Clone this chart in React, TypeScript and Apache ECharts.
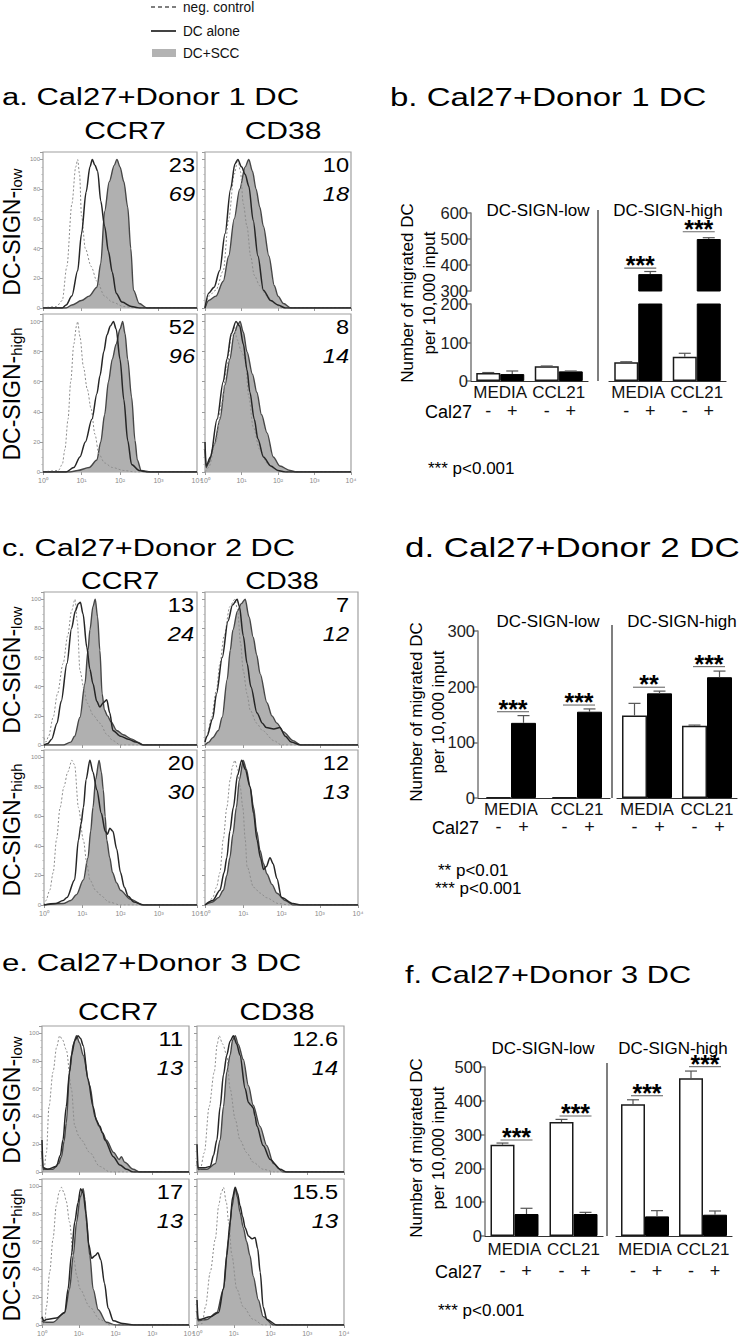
import React, { useEffect, useRef } from 'react';
import * as echarts from 'echarts';

type Pt = [number, number];

const FONT = '"Liberation Sans", Arial, Helvetica, sans-serif';

// ---------------- text content ----------------
const legendLabels = ['neg. control', 'DC alone', 'DC+SCC'];
const histTitles = ['a. Cal27+Donor 1 DC', 'c. Cal27+Donor 2 DC', 'e. Cal27+Donor 3 DC'];
const barTitles = ['b. Cal27+Donor 1 DC', 'd. Cal27+Donor 2 DC', 'f. Cal27+Donor 3 DC'];
const markers = ['CCR7', 'CD38'];
const subsets = ['low', 'high'];
const xTickLabels = ['10⁰', '10¹', '10²', '10³', '10⁴'];
const barCategories = ['MEDIA', 'CCL21'];
const groupHeads = ['DC-SIGN-low', 'DC-SIGN-high'];
const yTitle = 'Number of migrated DC\nper 10,000 input';

// numbers in each histogram: [upright, italic]; order CCR7-low, CD38-low, CCR7-high, CD38-high
const donor1Numbers = [['23', '69'], ['10', '18'], ['52', '96'], ['8', '14']];
const donor2Numbers = [['13', '24'], ['7', '12'], ['20', '30'], ['12', '13']];
const donor3Numbers = [['11', '13'], ['12.6', '14'], ['17', '13'], ['15.5', '13']];

// ---------------- histogram curves: [log10 intensity, % of max] ----------------
// Donor 1
const d1Ccr7LowNeg: Pt[] = [[0,0],[0.35,1],[0.5,5],[0.62,28],[0.75,70],[0.85,95],[0.9,100],[0.95,90],[1.0,62],[1.1,40],[1.25,28],[1.4,18],[1.6,8],[1.8,4],[2.1,1],[2.4,0],[4,0]];
const d1Ccr7LowDc: Pt[] = [[0,0],[0.5,0],[0.6,2],[0.75,8],[0.9,25],[1.0,50],[1.12,78],[1.22,95],[1.28,100],[1.35,96],[1.42,92],[1.5,72],[1.6,55],[1.7,38],[1.8,24],[1.9,10],[2.05,4],[2.3,1],[2.5,0],[4,0]];
const d1Ccr7LowScc: Pt[] = [[0,0],[0.6,0],[0.75,2],[1.0,5],[1.2,8],[1.4,14],[1.5,30],[1.6,65],[1.72,85],[1.85,96],[1.92,100],[2.0,95],[2.1,85],[2.2,68],[2.28,40],[2.35,12],[2.5,3],[2.7,0],[4,0]];
const d1Cd38LowNeg: Pt[] = [[0,0],[0.1,8],[0.3,12],[0.5,25],[0.65,60],[0.8,90],[0.9,100],[0.97,92],[1.05,70],[1.15,55],[1.25,35],[1.35,22],[1.5,15],[1.7,8],[1.9,3],[2.1,0],[4,0]];
const d1Cd38LowDc: Pt[] = [[0,0],[0.1,10],[0.25,14],[0.4,25],[0.55,50],[0.7,80],[0.82,97],[0.9,100],[1.0,95],[1.1,90],[1.2,82],[1.32,59],[1.45,35],[1.6,12],[1.8,5],[2.0,2],[2.2,0],[4,0]];
const d1Cd38LowScc: Pt[] = [[0,0],[0.1,5],[0.3,8],[0.5,18],[0.65,35],[0.8,60],[0.95,80],[1.1,95],[1.2,100],[1.3,92],[1.4,80],[1.5,68],[1.6,55],[1.75,35],[1.9,15],[2.0,8],[2.15,3],[2.35,0],[4,0]];
const d1Ccr7HighNeg: Pt[] = [[0,0],[0.4,1],[0.5,5],[0.57,15],[0.65,35],[0.72,60],[0.8,85],[0.87,97],[0.9,100],[0.96,90],[1.05,70],[1.15,55],[1.25,42],[1.35,25],[1.45,12],[1.6,6],[1.8,3],[2.1,1],[2.4,0],[4,0]];
const d1Ccr7HighDc: Pt[] = [[0,0],[0.6,0],[0.8,3],[0.96,10],[1.1,20],[1.27,35],[1.4,52],[1.48,64],[1.58,80],[1.66,91],[1.75,97],[1.83,100],[1.9,95],[2.0,75],[2.1,48],[2.2,21],[2.3,5],[2.5,1],[2.7,0],[4,0]];
const d1Ccr7HighScc: Pt[] = [[0,0],[0.7,0],[0.9,1],[1.2,3],[1.4,8],[1.5,20],[1.6,38],[1.7,60],[1.8,75],[1.9,85],[2.0,95],[2.07,100],[2.13,92],[2.2,75],[2.3,50],[2.39,21],[2.45,8],[2.55,1],[2.8,0],[4,0]];
const d1Cd38HighNeg: Pt[] = [[0,0],[0.1,3],[0.3,20],[0.45,45],[0.6,70],[0.72,90],[0.8,97],[0.88,88],[1.0,80],[1.1,75],[1.2,50],[1.32,30],[1.5,15],[1.7,6],[1.9,2],[2.1,0],[4,0]];
const d1Cd38HighDc: Pt[] = [[0,20],[0.03,4],[0.15,10],[0.33,35],[0.5,60],[0.6,75],[0.72,92],[0.85,100],[0.95,97],[1.05,85],[1.15,68],[1.23,53],[1.35,35],[1.45,22],[1.6,10],[1.8,4],[2.0,1],[2.2,0],[4,0]];
const d1Cd38HighScc: Pt[] = [[0,15],[0.03,3],[0.1,6],[0.25,18],[0.41,35],[0.55,58],[0.68,75],[0.8,92],[0.9,98],[0.96,100],[1.05,93],[1.15,80],[1.3,65],[1.42,53],[1.55,38],[1.7,26],[1.87,10],[2.05,4],[2.33,1],[2.5,0],[4,0]];
// Donor 2
const d2Ccr7LowNeg: Pt[] = [[0,5],[0.05,2],[0.12,6],[0.24,19],[0.35,35],[0.5,56],[0.62,75],[0.72,92],[0.81,100],[0.87,85],[0.94,51],[1.05,38],[1.12,29],[1.3,20],[1.46,15],[1.65,7],[1.8,3],[2.0,0],[4,0]];
const d2Ccr7LowDc: Pt[] = [[0,0],[0.1,1],[0.2,4],[0.34,15],[0.45,30],[0.6,56],[0.72,80],[0.82,92],[0.9,97],[0.95,98],[1.02,90],[1.12,67],[1.2,52],[1.28,42],[1.38,30],[1.46,26],[1.55,29],[1.64,31],[1.72,22],[1.8,10],[2.0,6],[2.2,4],[2.4,2],[2.6,0],[4,0]];
const d2Ccr7LowScc: Pt[] = [[0,0],[0.5,0],[0.7,2],[0.8,6],[0.94,19],[1.07,42],[1.15,65],[1.2,79],[1.28,95],[1.34,100],[1.4,88],[1.46,65],[1.52,35],[1.58,24],[1.66,20],[1.75,16],[1.9,10],[2.07,7],[2.3,4],[2.45,2],[2.6,0],[4,0]];
const d2Cd38LowNeg: Pt[] = [[0,3],[0.05,6],[0.17,19],[0.3,38],[0.39,56],[0.5,75],[0.65,95],[0.78,100],[0.85,93],[0.93,70],[1.0,51],[1.1,35],[1.18,24],[1.35,15],[1.5,10],[1.8,3],[2.0,0],[4,0]];
const d2Cd38LowDc: Pt[] = [[0,2],[0.05,6],[0.2,18],[0.3,35],[0.45,60],[0.6,85],[0.72,96],[0.84,100],[0.9,95],[1.0,75],[1.1,56],[1.2,40],[1.36,22],[1.5,15],[1.6,12],[1.8,11],[1.96,12],[2.1,6],[2.25,2],[2.5,0],[4,0]];
const d2Cd38LowScc: Pt[] = [[0,0],[0.1,2],[0.2,5],[0.35,10],[0.45,19],[0.58,45],[0.66,65],[0.73,79],[0.85,92],[0.95,97],[1.05,100],[1.15,88],[1.26,74],[1.35,62],[1.44,49],[1.62,29],[1.75,20],[1.88,15],[2.05,9],[2.3,3],[2.5,0],[4,0]];
const d2Ccr7HighNeg: Pt[] = [[0,0],[0.05,3],[0.15,10],[0.24,22],[0.33,45],[0.42,66],[0.52,80],[0.62,90],[0.73,98],[0.8,95],[0.9,66],[1.03,44],[1.12,28],[1.2,17],[1.35,10],[1.46,7],[1.7,2],[2.0,0],[4,0]];
const d2Ccr7HighDc: Pt[] = [[0,0],[0.3,1],[0.5,3],[0.6,5],[0.8,17],[0.9,44],[0.97,55],[1.03,66],[1.1,85],[1.2,98],[1.28,90],[1.38,78],[1.5,62],[1.6,50],[1.66,48],[1.72,52],[1.8,50],[1.9,38],[2.0,22],[2.1,12],[2.2,6],[2.35,2],[2.6,0],[4,0]];
const d2Ccr7HighScc: Pt[] = [[0,0],[0.5,1],[0.7,3],[0.85,7],[1.03,17],[1.15,32],[1.22,50],[1.28,66],[1.35,85],[1.44,98],[1.5,90],[1.55,78],[1.6,60],[1.64,44],[1.72,32],[1.79,22],[1.9,15],[2.0,10],[2.25,4],[2.6,0],[4,0]];
const d2Cd38HighNeg: Pt[] = [[0,0],[0.1,2],[0.2,5],[0.3,12],[0.39,22],[0.48,45],[0.57,66],[0.66,85],[0.72,94],[0.78,98],[0.85,92],[0.92,80],[0.99,66],[1.05,45],[1.1,26],[1.27,12],[1.45,8],[1.6,5],[1.92,1],[2.2,0],[4,0]];
const d2Cd38HighDc: Pt[] = [[0,0],[0.2,3],[0.39,10],[0.5,22],[0.57,32],[0.65,50],[0.74,66],[0.85,88],[0.96,98],[1.05,92],[1.18,80],[1.27,62],[1.36,44],[1.45,32],[1.53,24],[1.6,26],[1.7,32],[1.78,28],[1.88,18],[2.0,5],[2.3,1],[2.5,0],[4,0]];
const d2Cd38HighScc: Pt[] = [[0,0],[0.2,2],[0.35,5],[0.48,10],[0.57,20],[0.65,32],[0.73,48],[0.82,66],[0.9,85],[1.0,98],[1.08,92],[1.18,80],[1.27,66],[1.35,50],[1.44,37],[1.53,28],[1.62,21],[1.75,14],[1.88,8],[2.1,3],[2.3,0],[4,0]];
// Donor 3
const d3Ccr7LowNeg: Pt[] = [[0,0],[0.05,1],[0.12,14],[0.19,47],[0.3,72],[0.4,90],[0.48,98],[0.56,95],[0.66,88],[0.8,60],[0.89,33],[1.0,26],[1.07,23],[1.3,14],[1.57,4],[1.85,0],[4,0]];
const d3Ccr7LowDc: Pt[] = [[0,23],[0.03,3],[0.15,2],[0.39,4],[0.5,12],[0.57,23],[0.66,47],[0.75,72],[0.8,84],[0.9,95],[0.98,98],[1.05,96],[1.12,91],[1.25,67],[1.39,47],[1.48,37],[1.57,33],[1.65,28],[1.71,23],[1.94,11],[2.12,5],[2.3,2],[2.48,0],[4,0]];
const d3Ccr7LowScc: Pt[] = [[0,15],[0.03,2],[0.3,2],[0.45,6],[0.53,11],[0.6,22],[0.66,35],[0.75,72],[0.85,92],[0.94,98],[1.02,93],[1.12,84],[1.3,62],[1.44,40],[1.55,33],[1.65,28],[1.75,23],[1.95,14],[2.1,9],[2.16,11],[2.25,7],[2.48,2],[2.66,0],[4,0]];
const d3Cd38LowNeg: Pt[] = [[0,0],[0.09,2],[0.2,14],[0.33,47],[0.47,72],[0.55,92],[0.6,98],[0.7,92],[0.81,84],[0.9,60],[1.04,38],[1.17,23],[1.35,14],[1.53,7],[1.8,2],[2.1,0],[4,0]];
const d3Cd38LowDc: Pt[] = [[0,20],[0.03,3],[0.2,3],[0.36,4],[0.45,12],[0.54,23],[0.63,47],[0.72,70],[0.81,84],[0.9,94],[0.99,98],[1.08,92],[1.17,84],[1.31,60],[1.4,50],[1.47,48],[1.53,46],[1.58,40],[1.63,33],[1.8,19],[1.99,9],[2.26,2],[2.44,0],[4,0]];
const d3Cd38LowScc: Pt[] = [[0,8],[0.03,2],[0.27,2],[0.5,6],[0.63,23],[0.72,47],[0.81,72],[0.9,84],[0.97,95],[1.04,98],[1.12,92],[1.26,81],[1.4,62],[1.53,48],[1.71,33],[1.9,19],[2.08,6],[2.35,0],[4,0]];
const d3Ccr7HighNeg: Pt[] = [[0,0],[0.07,1],[0.12,13],[0.21,38],[0.3,62],[0.39,86],[0.47,96],[0.53,99],[0.6,95],[0.66,89],[0.75,74],[0.85,50],[0.95,35],[1.03,26],[1.3,13],[1.57,4],[1.85,0],[4,0]];
const d3Ccr7HighDc: Pt[] = [[0,6],[0.05,3],[0.12,4],[0.39,5],[0.62,9],[0.71,26],[0.8,50],[0.89,74],[0.98,88],[1.05,98],[1.12,95],[1.2,80],[1.27,58],[1.35,48],[1.45,50],[1.52,52],[1.6,47],[1.7,30],[1.8,12],[1.94,3],[2.2,1],[2.5,0],[4,0]];
const d3Ccr7HighScc: Pt[] = [[0,3],[0.05,2],[0.3,2],[0.62,9],[0.75,26],[0.85,50],[0.94,74],[1.04,92],[1.12,98],[1.17,90],[1.21,74],[1.3,50],[1.39,26],[1.53,11],[1.75,2],[2.0,0],[4,0]];
const d3Cd38HighNeg: Pt[] = [[0,0],[0.14,1],[0.23,13],[0.36,38],[0.5,62],[0.59,86],[0.66,95],[0.72,99],[0.8,88],[0.86,74],[0.95,50],[1.08,26],[1.26,13],[1.53,4],[1.8,0],[4,0]];
const d3Cd38HighDc: Pt[] = [[0,18],[0.03,4],[0.09,4],[0.36,6],[0.59,9],[0.72,26],[0.81,50],[0.9,74],[0.97,92],[1.04,99],[1.1,95],[1.17,86],[1.24,78],[1.31,70],[1.4,64],[1.5,62],[1.58,63],[1.65,55],[1.72,38],[1.8,13],[1.9,4],[2.17,0],[4,0]];
const d3Cd38HighScc: Pt[] = [[0,10],[0.03,3],[0.27,4],[0.54,9],[0.72,26],[0.86,62],[0.95,85],[1.04,98],[1.1,92],[1.17,81],[1.26,70],[1.35,60],[1.44,50],[1.53,35],[1.67,18],[1.8,6],[2.08,0],[4,0]];

// ---------------- migration bar data (mean, SEM) : [MEDIA, CCL21] ----------------
// Donor 1
const bLowMinus = [21, 38];   const bLowMinusSe = [1, 1];
const bLowPlus = [18, 25];    const bLowPlusSe = [8, 1];
const bHighMinus = [49, 63];  const bHighMinusSe = [1, 9];
const bHighPlus = [365, 500]; const bHighPlusSe = [10, 5];
const bLowSig: { cat: number; y: number; mark: string }[] = [];
const bHighSig = [{ cat: 0, y: 388, mark: '***' }, { cat: 1, y: 528, mark: '***' }];
// Donor 2
const dLowMinus = [1, 1];     const dLowMinusSe = [0, 0];
const dLowPlus = [135, 155];  const dLowPlusSe = [13, 5];
const dHighMinus = [148, 130]; const dHighMinusSe = [22, 1];
const dHighPlus = [188, 217]; const dHighPlusSe = [4, 11];
const dLowSig = [{ cat: 0, y: 155, mark: '***' }, { cat: 1, y: 167, mark: '***' }];
const dHighSig = [{ cat: 0, y: 199, mark: '**' }, { cat: 1, y: 236, mark: '***' }];
// Donor 3
const fLowMinus = [270, 337]; const fLowMinusSe = [5, 8];
const fLowPlus = [65, 65];    const fLowPlusSe = [17, 5];
const fHighMinus = [390, 467]; const fHighMinusSe = [13, 21];
const fHighPlus = [58, 63];   const fHighPlusSe = [17, 11];
const fLowSig = [{ cat: 0, y: 284, mark: '***' }, { cat: 1, y: 355, mark: '***' }];
const fHighSig = [{ cat: 0, y: 415, mark: '***' }, { cat: 1, y: 501, mark: '***' }];

const footnotes1 = ['*** p<0.001'];
const footnotes2 = ['** p<0.01', '*** p<0.001'];
const footnotes3 = ['*** p<0.001'];

function buildOption() {
  const grid: any[] = [];
  const xAxis: any[] = [];
  const yAxis: any[] = [];
  const series: any[] = [];
  const graphic: any[] = [];

  const txt = (x: number, y: number, text: string, o: any = {}) => ({
    type: 'text', x, y, silent: true,
    scaleX: o.scaleX ?? 1, rotation: o.rotation ?? 0,
    style: {
      text, fontSize: o.size ?? 16, fontFamily: FONT,
      fontStyle: o.italic ? 'italic' : 'normal', fontWeight: o.bold ? 'bold' : 'normal',
      fill: o.color ?? '#000',
      align: o.align ?? 'left', textAlign: o.align ?? 'left',
      verticalAlign: 'middle', textVerticalAlign: 'middle',
      rich: o.rich, lineHeight: o.lineHeight,
    },
  });
  const line = (x1: number, y1: number, x2: number, y2: number, o: any = {}) => ({
    type: 'line', silent: true, shape: { x1, y1, x2, y2 },
    style: { stroke: o.color ?? '#222', lineWidth: o.width ?? 1.5, lineDash: o.dash ?? null },
  });

  // ---------- legend ----------
  graphic.push(line(151, 7, 176, 7, { color: '#555', width: 1.3, dash: [4, 3] }));
  graphic.push(line(151, 31, 176, 31, { color: '#222', width: 1.7 }));
  graphic.push({ type: 'rect', silent: true, shape: { x: 152, y: 49, width: 24, height: 8 }, style: { fill: '#b3b3b3' } });
  [7, 31, 53].forEach((y, k) => graphic.push(txt(183, y, legendLabels[k], { size: 15.5, scaleX: 0.88, color: '#111' })));

  // ---------- histograms ----------
  const addHist = (box: number[], neg: Pt[], dc: Pt[], scc: Pt[], showX: boolean, showY: boolean) => {
    const i = grid.length;
    const [l, t, r, b] = box;
    grid.push({ left: l, top: t, width: r - l, height: b - t, show: true, borderColor: '#a0a0a0', borderWidth: 1.2, backgroundColor: 'rgba(0,0,0,0)' });
    xAxis.push({
      gridIndex: i, type: 'value', min: 0, max: 4, interval: 1,
      axisLine: { show: false }, splitLine: { show: false },
      axisTick: { show: true, length: 3, lineStyle: { color: '#9a9a9a', width: 1 } },
      axisLabel: { show: showX, fontSize: 7, color: '#8a8a8a', margin: 5, formatter: (v: number) => xTickLabels[Math.round(v)] ?? '' },
    });
    yAxis.push({
      gridIndex: i, type: 'value', min: 0, max: 105, interval: 20,
      axisLine: { show: false }, splitLine: { show: false },
      axisTick: { show: true, length: 3, lineStyle: { color: '#9a9a9a', width: 1 } },
      minorTick: { show: true, splitNumber: 4, length: 1.5, lineStyle: { color: '#b5b5b5' } },
      axisLabel: { show: showY, fontSize: 6, color: '#8a8a8a', margin: 3, formatter: (v: number) => (v % 20 === 0 && v <= 100 ? String(v) : '') },
    });
    const common = { type: 'line', xAxisIndex: i, yAxisIndex: i, symbol: 'none', smooth: 0.3, smoothMonotone: 'x', silent: true, clip: true };
    series.push({ ...common, name: legendLabels[2], data: scc, z: 2, lineStyle: { color: '#474747', width: 1.4 }, areaStyle: { color: '#b0b0b0', opacity: 1 } });
    series.push({ ...common, name: legendLabels[0], data: neg, z: 3, lineStyle: { color: '#8c8c8c', width: 1, type: [2, 2] } });
    series.push({ ...common, name: legendLabels[1], data: dc, z: 4, lineStyle: { color: '#262626', width: 1.5 } });
  };

  const histLayout = [
    { title: [2, 97, 24.6], heads: [[125, 131], [283, 131]], headSize: 24, rowY: [232, 394],
      numX: [195, 349],
      boxes: [[43, 152, 197, 308], [205, 152, 351, 308], [43, 314, 197, 472], [205, 314, 351, 472]] },
    { title: [2, 548, 24.4], heads: [[120, 581], [282, 581]], headSize: 23, rowY: [670, 830],
      numX: [194, 349],
      boxes: [[44, 592, 197, 745], [205, 592, 358, 745], [44, 750, 197, 905], [205, 750, 358, 905]] },
    { title: [2, 962, 24.8], heads: [[118, 1012], [277, 1012]], headSize: 23.5, rowY: [1100, 1255],
      numX: [183, 338],
      boxes: [[42, 1026, 189, 1172], [197, 1026, 344, 1172], [42, 1179, 189, 1325], [197, 1179, 344, 1325]] },
  ];
  const histData = [
    { curves: [[d1Ccr7LowNeg, d1Ccr7LowDc, d1Ccr7LowScc], [d1Cd38LowNeg, d1Cd38LowDc, d1Cd38LowScc], [d1Ccr7HighNeg, d1Ccr7HighDc, d1Ccr7HighScc], [d1Cd38HighNeg, d1Cd38HighDc, d1Cd38HighScc]], nums: donor1Numbers },
    { curves: [[d2Ccr7LowNeg, d2Ccr7LowDc, d2Ccr7LowScc], [d2Cd38LowNeg, d2Cd38LowDc, d2Cd38LowScc], [d2Ccr7HighNeg, d2Ccr7HighDc, d2Ccr7HighScc], [d2Cd38HighNeg, d2Cd38HighDc, d2Cd38HighScc]], nums: donor2Numbers },
    { curves: [[d3Ccr7LowNeg, d3Ccr7LowDc, d3Ccr7LowScc], [d3Cd38LowNeg, d3Cd38LowDc, d3Cd38LowScc], [d3Ccr7HighNeg, d3Ccr7HighDc, d3Ccr7HighScc], [d3Cd38HighNeg, d3Cd38HighDc, d3Cd38HighScc]], nums: donor3Numbers },
  ];

  histLayout.forEach((L, d) => {
    graphic.push(txt(L.title[0], L.title[1], histTitles[d], { size: L.title[2], scaleX: 1.26 }));
    L.heads.forEach((h, k) => graphic.push(txt(h[0], h[1], markers[k], { size: L.headSize, scaleX: 1.25, align: 'center' })));
    L.rowY.forEach((y, k) => graphic.push({
      type: 'text', x: 12, y, rotation: Math.PI / 2, silent: true,
      style: {
        text: `{a|DC-SIGN-}{b|${subsets[k]}}`,
        rich: { a: { fontSize: 23, fontFamily: FONT, fill: '#000', verticalAlign: 'bottom' }, b: { fontSize: 15, fontFamily: FONT, fill: '#000', verticalAlign: 'bottom' } },
        align: 'center', textAlign: 'center', verticalAlign: 'middle', textVerticalAlign: 'middle',
      },
    }));
    L.boxes.forEach((box, p) => {
      const c = histData[d].curves[p];
      addHist(box, c[0], c[1], c[2], p >= 2, p % 2 === 0);
      const nx = L.numX[p % 2];
      graphic.push(txt(nx, box[1] + 13, histData[d].nums[p][0], { size: 20.5, scaleX: 1.15, align: 'right' }));
      graphic.push(txt(nx, box[1] + 42, histData[d].nums[p][1], { size: 20.5, scaleX: 1.15, align: 'right', italic: true }));
    });
  });

  // ---------- migration bar charts ----------
  const addBarGrid = (box: number[], yMin: number, yMax: number,
    minus: number[], minusSe: number[], plus: number[], plusSe: number[],
    sig: { cat: number; y: number; mark: string }[], o: any) => {
    const i = grid.length;
    const [l, t, r, b] = box;
    grid.push({ left: l, top: t, width: r - l, height: b - t, show: false });
    xAxis.push({
      gridIndex: i, type: 'category', data: barCategories,
      axisLine: { show: o.xLine, lineStyle: { color: '#333', width: 1.2 } },
      axisTick: { show: false }, splitLine: { show: false },
      axisLabel: { show: o.xLabels, interval: 0, hideOverlap: false, fontSize: 17, color: '#111', margin: o.labelMargin ?? 3, fontFamily: FONT },
    });
    yAxis.push({
      gridIndex: i, type: 'value', min: yMin, max: yMax, interval: 100,
      axisLine: { show: o.yAxis, lineStyle: { color: '#7a7a7a', width: 1.5 } },
      axisTick: { show: o.yAxis, length: 5, lineStyle: { color: '#7a7a7a', width: 1.5 } },
      axisLabel: { show: o.yAxis, fontSize: 16.5, color: '#222', margin: 3, fontFamily: FONT },
      splitLine: { show: false },
    });
    const signLabel = (s: string) => ({ show: !!o.signs, position: 'bottom', distance: o.signDist, formatter: s, fontSize: 18, color: '#111', fontFamily: FONT });
    series.push({ type: 'bar', name: 'Cal27 -', xAxisIndex: i, yAxisIndex: i, data: minus, barWidth: o.bw, barGap: '0%', clip: true, silent: true, z: 2,
      itemStyle: { color: '#fff', borderColor: '#1a1a1a', borderWidth: 1.5 }, label: signLabel('-') });
    series.push({ type: 'bar', name: 'Cal27 +', xAxisIndex: i, yAxisIndex: i, data: plus, barWidth: o.bw, barGap: '0%', clip: true, silent: true, z: 2,
      itemStyle: { color: '#000', borderColor: '#000', borderWidth: 1 }, label: signLabel('+') });
    const errData = [
      ...minus.map((v, k) => [k, v, v + minusSe[k], -1]),
      ...plus.map((v, k) => [k, v, v + plusSe[k], 1]),
    ];
    series.push({
      type: 'custom', xAxisIndex: i, yAxisIndex: i, clip: true, silent: true, z: 5, data: errData,
      renderItem: (_p: any, api: any) => {
        const c = api.value(0), m = api.value(1), top = api.value(2), side = api.value(3);
        if (!(top > m)) return null;
        const a = api.coord([c, m]);
        const bt = api.coord([c, top]);
        const x = a[0] + side * o.bw / 2;
        return {
          type: 'group', children: [
            { type: 'line', shape: { x1: x, y1: a[1], x2: x, y2: bt[1] }, style: { stroke: '#555', lineWidth: 1.2 } },
            { type: 'line', shape: { x1: x - 6, y1: bt[1], x2: x + 6, y2: bt[1] }, style: { stroke: '#555', lineWidth: 1.2 } },
          ],
        };
      },
    });
    if (sig.length) {
      series.push({
        type: 'custom', xAxisIndex: i, yAxisIndex: i, silent: true, z: 6,
        data: sig.map((s) => [s.cat, s.y]),
        renderItem: (p: any, api: any) => {
          const pt = api.coord([api.value(0), api.value(1)]);
          const mark = sig[p.dataIndex].mark;
          return {
            type: 'group', children: [
              { type: 'line', shape: { x1: pt[0] - 14, y1: pt[1], x2: pt[0] + 18, y2: pt[1] }, style: { stroke: '#6a6a6a', lineWidth: 1.1 } },
              { type: 'text', x: pt[0] + 2, y: pt[1] - 3, style: { text: mark, fontSize: 25, fontWeight: 'bold', fontFamily: FONT, fill: '#000', align: 'center', textAlign: 'center', verticalAlign: 'middle', textVerticalAlign: 'middle' } },
            ],
          };
        },
      });
    }
  };

  // b : broken axis (0-200 / 300-600)
  addBarGrid([471, 304, 588, 381], 0, 200, bLowMinus, bLowMinusSe, bLowPlus, bLowPlusSe, bLowSig, { xLine: true, xLabels: true, yAxis: true, signs: true, signDist: 21, bw: 24 });
  addBarGrid([609, 304, 726, 381], 0, 200, bHighMinus, bHighMinusSe, bHighPlus, bHighPlusSe, [], { xLine: true, xLabels: true, yAxis: false, signs: true, signDist: 21, bw: 24 });
  addBarGrid([471, 213, 588, 291], 300, 600, bLowMinus, bLowMinusSe, bLowPlus, bLowPlusSe, [], { xLine: false, xLabels: false, yAxis: true, signs: false, bw: 24 });
  addBarGrid([609, 213, 726, 291], 300, 600, bHighMinus, bHighMinusSe, bHighPlus, bHighPlusSe, bHighSig, { xLine: false, xLabels: false, yAxis: false, signs: false, bw: 24 });
  // d
  addBarGrid([478, 631, 610, 798], 0, 300, dLowMinus, dLowMinusSe, dLowPlus, dLowPlusSe, dLowSig, { xLine: true, xLabels: true, yAxis: true, signs: true, signDist: 20, bw: 25 });
  addBarGrid([617, 631, 737, 798], 0, 300, dHighMinus, dHighMinusSe, dHighPlus, dHighPlusSe, dHighSig, { xLine: true, xLabels: true, yAxis: false, signs: true, signDist: 20, bw: 25 });
  // f
  addBarGrid([485, 1067, 603, 1236], 0, 500, fLowMinus, fLowMinusSe, fLowPlus, fLowPlusSe, fLowSig, { xLine: true, xLabels: true, yAxis: true, signs: true, signDist: 26, bw: 24, labelMargin: 5 });
  addBarGrid([616, 1067, 732, 1236], 0, 500, fHighMinus, fHighMinusSe, fHighPlus, fHighPlusSe, fHighSig, { xLine: true, xLabels: true, yAxis: false, signs: true, signDist: 26, bw: 24, labelMargin: 5 });

  const barLayout = [
    { title: [390, 97, 26], yTitle: [418, 293], heads: [[538, 210], [668, 210]], sep: [598, 210, 381], cal: [425, 412], foot: [[428, 468]], notes: footnotes1 },
    { title: [405, 548, 27.5], yTitle: [427, 712], heads: [[548, 621], [682, 621]], sep: [612, 625, 798], cal: [432, 828], foot: [[438, 870], [435, 888]], notes: footnotes2 },
    { title: [405, 975, 24.2], yTitle: [427, 1148], heads: [[543, 1048], [673, 1048]], sep: [607, 1063, 1236], cal: [435, 1272], foot: [[438, 1310]], notes: footnotes3 },
  ];
  barLayout.forEach((L, k) => {
    graphic.push(txt(L.title[0], L.title[1], barTitles[k], { size: L.title[2], scaleX: 1.27 }));
    graphic.push(txt(L.yTitle[0], L.yTitle[1], yTitle, { size: 17, align: 'center', rotation: Math.PI / 2, lineHeight: 22 }));
    L.heads.forEach((h, j) => graphic.push(txt(h[0], h[1], groupHeads[j], { size: 17, align: 'center' })));
    graphic.push(line(L.sep[0], L.sep[1], L.sep[0], L.sep[2], { color: '#555', width: 1.5 }));
    graphic.push(txt(L.cal[0], L.cal[1], 'Cal27', { size: 18 }));
    L.foot.forEach((f, j) => graphic.push(txt(f[0], f[1], L.notes[j], { size: 17 })));
  });

  return {
    animation: false,
    backgroundColor: '#fff',
    textStyle: { fontFamily: FONT },
    grid, xAxis, yAxis, series, graphic,
  };
}

export default function App() {
  const ref = useRef<HTMLDivElement>(null);
  useEffect(() => {
    document.body.style.margin = '0';
    const chart = echarts.init(ref.current!, null, { renderer: 'svg' });
    chart.setOption(buildOption() as any);
    return () => chart.dispose();
  }, []);
  return <div ref={ref} style={{ width: 742, height: 1342, background: '#fff' }} />;
}
